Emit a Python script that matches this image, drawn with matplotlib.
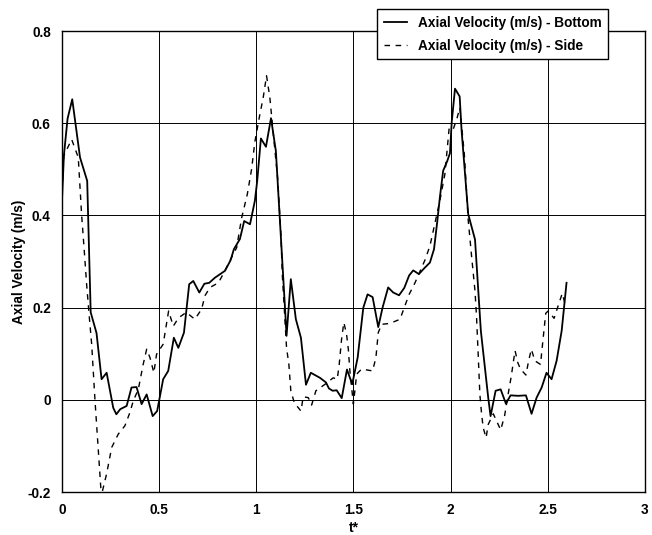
import matplotlib
matplotlib.use("Agg")
import matplotlib.pyplot as plt

# Axial velocity
t_bottom = [0.0, 0.01, 0.029, 0.053, 0.093, 0.13, 0.148, 0.178, 0.204, 0.23,
            0.264, 0.28, 0.3, 0.333, 0.358, 0.384, 0.41, 0.436, 0.467, 0.49,
            0.521, 0.547, 0.576, 0.599, 0.628, 0.655, 0.676, 0.707, 0.733, 0.758,
            0.787, 0.839, 0.868, 0.885, 0.916, 0.938, 0.968, 0.993, 1.005, 1.024,
            1.05, 1.076, 1.101, 1.148, 1.156, 1.178, 1.204, 1.23, 1.256, 1.281,
            1.328, 1.359, 1.374, 1.393, 1.414, 1.44, 1.467, 1.494, 1.522, 1.551,
            1.573, 1.599, 1.628, 1.65, 1.679, 1.705, 1.735, 1.762, 1.787, 1.808,
            1.837, 1.868, 1.894, 1.915, 1.932, 1.945, 1.962, 1.983, 1.997, 2.006,
            2.023, 2.047, 2.057, 2.091, 2.126, 2.156, 2.194, 2.206, 2.232, 2.258,
            2.285, 2.309, 2.348, 2.388, 2.417, 2.443, 2.469, 2.494, 2.52, 2.546,
            2.572, 2.597]
v_bottom = [0.43, 0.53, 0.61, 0.652, 0.526, 0.475, 0.19, 0.145, 0.045, 0.059,
            -0.017, -0.031, -0.02, -0.013, 0.027, 0.028, -0.009, 0.012, -0.035, -0.024,
            0.045, 0.063, 0.135, 0.113, 0.146, 0.251, 0.258, 0.233, 0.252, 0.254,
            0.265, 0.28, 0.303, 0.327, 0.349, 0.388, 0.381, 0.432, 0.475, 0.567,
            0.549, 0.611, 0.54, 0.2, 0.139, 0.262, 0.175, 0.135, 0.033, 0.059,
            0.048, 0.038, 0.025, 0.02, 0.021, 0.004, 0.066, 0.034, 0.092, 0.2,
            0.229, 0.223, 0.158, 0.2, 0.244, 0.233, 0.227, 0.243, 0.27, 0.281,
            0.273, 0.287, 0.298, 0.327, 0.388, 0.439, 0.497, 0.518, 0.535, 0.602,
            0.675, 0.658, 0.584, 0.403, 0.348, 0.15, 0.005, -0.035, 0.02, 0.023,
            -0.008, 0.01, 0.009, 0.01, -0.03, 0.005, 0.027, 0.059, 0.045, 0.085,
            0.15, 0.254]

t_side = [0.0, 0.01, 0.05, 0.084, 0.101, 0.115, 0.127, 0.141, 0.153, 0.17,
          0.184, 0.2, 0.207, 0.23, 0.256, 0.29, 0.324, 0.35, 0.367, 0.393,
          0.418, 0.436, 0.453, 0.473, 0.487, 0.521, 0.549, 0.573, 0.6, 0.64,
          0.684, 0.719, 0.736, 0.762, 0.805, 0.83, 0.868, 0.899, 0.925, 0.954,
          0.976, 0.993, 1.019, 1.036, 1.053, 1.07, 1.088, 1.11, 1.127, 1.134,
          1.156, 1.168, 1.178, 1.196, 1.23, 1.242, 1.268, 1.285, 1.307, 1.354,
          1.396, 1.417, 1.427, 1.44, 1.451, 1.465, 1.474, 1.482, 1.5, 1.517,
          1.542, 1.599, 1.616, 1.628, 1.645, 1.688, 1.74, 1.765, 1.787, 1.817,
          1.868, 1.894, 1.945, 1.971, 1.993, 2.014, 2.034, 2.048, 2.071, 2.091,
          2.109, 2.126, 2.134, 2.143, 2.151, 2.16, 2.168, 2.183, 2.194, 2.22,
          2.245, 2.258, 2.278, 2.297, 2.312, 2.332, 2.347, 2.36, 2.388, 2.402,
          2.416, 2.434, 2.463, 2.477, 2.49, 2.503, 2.533, 2.556, 2.575, 2.592]
v_side = [0.45, 0.53, 0.565, 0.526, 0.403, 0.323, 0.251, 0.179, 0.121, 0.0,
          -0.089, -0.19, -0.2, -0.16, -0.103, -0.074, -0.056, -0.027, -0.002, 0.023,
          0.077, 0.11, 0.092, 0.059, 0.099, 0.121, 0.193, 0.16, 0.178, 0.19,
          0.175, 0.197, 0.226, 0.244, 0.254, 0.273, 0.305, 0.33, 0.395, 0.446,
          0.5, 0.56, 0.62, 0.656, 0.703, 0.656, 0.576, 0.482, 0.359, 0.273,
          0.113, 0.077, 0.02, -0.006, -0.024, 0.007, 0.005, -0.011, 0.02, 0.034,
          0.048, 0.045, 0.077, 0.135, 0.168, 0.142, 0.11, 0.063, -0.009, 0.056,
          0.067, 0.063, 0.092, 0.146, 0.164, 0.166, 0.175, 0.204, 0.229, 0.254,
          0.303, 0.334, 0.432, 0.49, 0.59, 0.587, 0.612, 0.634, 0.533, 0.39,
          0.309, 0.236, 0.179, 0.092, 0.012, -0.031, -0.06, -0.082, -0.053, -0.03,
          -0.053, -0.065, -0.035, 0.014, 0.05, 0.107, 0.08, 0.067, 0.054, 0.085,
          0.11, 0.085, 0.077, 0.135, 0.188, 0.193, 0.177, 0.207, 0.231, 0.204]

x_ticks = [0, 0.5, 1, 1.5, 2, 2.5, 3]
x_labels = ["0", "0.5", "1", "1.5", "2", "2.5", "3"]
y_ticks = [-0.2, 0, 0.2, 0.4, 0.6, 0.8]
y_labels = ["-0.2", "0", "0.2", "0.4", "0.6", "0.8"]

plt.rcParams["font.family"] = ["Liberation Sans", "DejaVu Sans"]
plt.rcParams["font.weight"] = "bold"

fig = plt.figure(figsize=(6.52, 5.35), dpi=100)
ax = fig.add_axes([0.095, 0.080, 0.894, 0.862])

ax.plot(t_bottom, v_bottom, color="black", lw=1.3, ls="-",
        label="Axial Velocity (m/s) - Bottom")
ax.plot(t_side, v_side, color="black", lw=1.0, ls=(0, (4, 4)),
        label="Axial Velocity (m/s) - Side")

ax.set_xlim(0, 3)
ax.set_ylim(-0.2, 0.8)
ax.set_xticks(x_ticks)
ax.set_xticklabels(x_labels)
ax.set_yticks(y_ticks)
ax.set_yticklabels(y_labels)
ax.tick_params(length=0, labelsize=9.8, pad=8)
ax.grid(True, color="black", lw=0.7)
for s in ax.spines.values():
    s.set_color("black")
    s.set_linewidth(1.0)

ax.set_xlabel("t*", fontsize=10, fontweight="bold", labelpad=3)
ax.set_ylabel("Axial Velocity (m/s)", fontsize=9.8, fontweight="bold", labelpad=1)

leg = ax.legend(loc="upper right", bbox_to_anchor=(0.937, 1.048),
                fontsize=9.8, frameon=True, fancybox=False, handlelength=1.7,
                handletextpad=0.8, borderpad=0.5, labelspacing=0.65,
                borderaxespad=0)
leg.get_frame().set_edgecolor("black")
leg.get_frame().set_linewidth(1.0)
leg.get_frame().set_alpha(1)
for txt in leg.get_texts():
    txt.set_fontweight("bold")

fig.savefig("out.png", dpi=100)
